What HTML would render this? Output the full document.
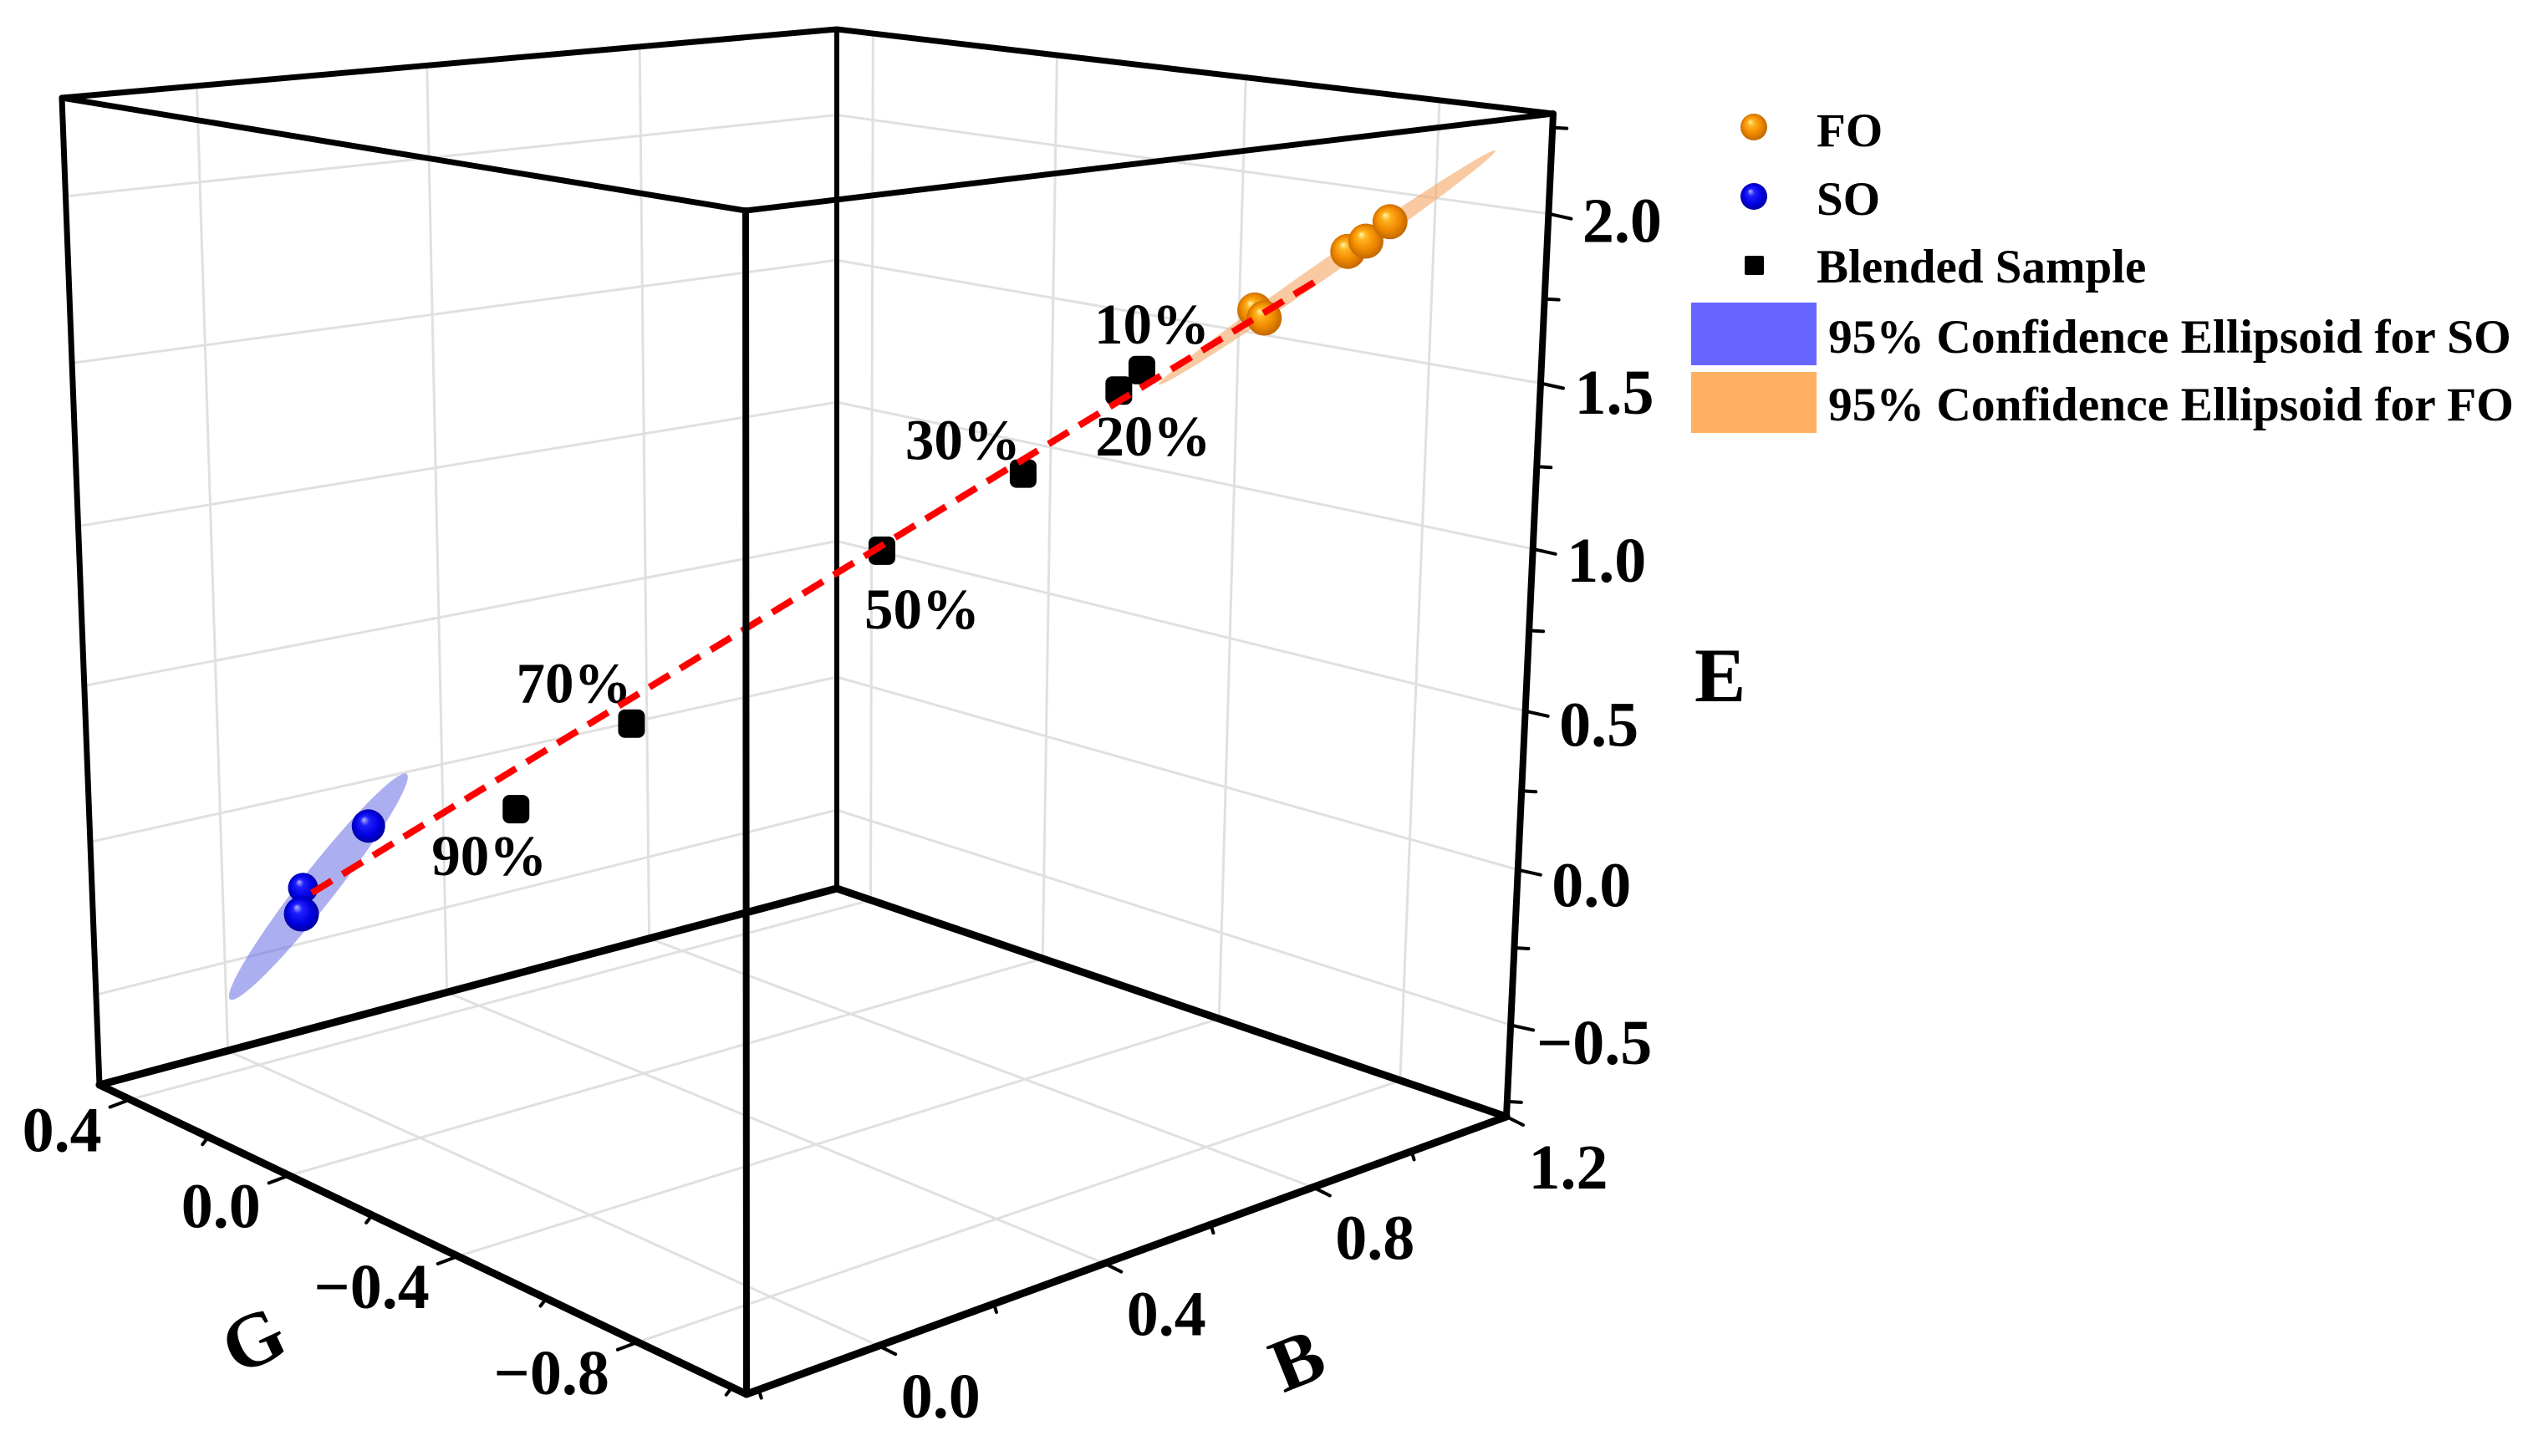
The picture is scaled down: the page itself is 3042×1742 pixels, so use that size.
<!DOCTYPE html>
<html lang="en">
<head>
<meta charset="utf-8">
<title>3D colour-difference chart</title>
<style>
html,body{margin:0;padding:0;background:#fff;}
svg{display:block;}
text{font-family:"Liberation Serif",serif;font-weight:bold;fill:#000;}
</style>
</head>
<body>
<svg id="chart" xmlns="http://www.w3.org/2000/svg" width="3042" height="1742" viewBox="0 0 3042 1742">
  <defs>
    <radialGradient id="ballOrange" cx="50%" cy="50%" r="55%" fx="36%" fy="30%">
      <stop offset="0" stop-color="#fffbb0"/>
      <stop offset="0.22" stop-color="#ffb420"/>
      <stop offset="0.6" stop-color="#f08a00"/>
      <stop offset="1" stop-color="#b86000"/>
    </radialGradient>
    <radialGradient id="ballBlue" cx="50%" cy="50%" r="55%" fx="36%" fy="30%">
      <stop offset="0" stop-color="#b4b8ff"/>
      <stop offset="0.25" stop-color="#2020ff"/>
      <stop offset="0.65" stop-color="#0000e0"/>
      <stop offset="1" stop-color="#000090"/>
    </radialGradient>
  </defs>
  <rect x="0" y="0" width="3042" height="1742" fill="#fff"/>
  <g id="grid"></g>
  <g id="backEdges"></g>
  <g id="marks"></g>
  <g id="frontEdges"></g>
  <g id="ticks"></g>
  <g id="labels"></g>

  <text transform="translate(303,1603) rotate(-25)" text-anchor="middle" dominant-baseline="central" font-size="92">G</text>
  <text transform="translate(1552,1628) rotate(-22)" text-anchor="middle" dominant-baseline="central" font-size="90">B</text>
  <text x="2027" y="839" font-size="92">E</text>

  <g>
    <circle cx="2098" cy="152" r="16" fill="url(#ballOrange)"/>
    <text x="2173" y="175" font-size="57">FO</text>
    <circle cx="2098" cy="235" r="16" fill="url(#ballBlue)"/>
    <text x="2173" y="257" font-size="57">SO</text>
    <rect x="2087" y="306" width="23" height="23" rx="2" fill="#000"/>
    <text x="2173" y="338" font-size="57">Blended Sample</text>
    <rect x="2023" y="362" width="150" height="75" fill="#6666ff"/>
    <text x="2187" y="422" font-size="57.5">95% Confidence Ellipsoid for SO</text>
    <rect x="2023" y="445" width="150" height="73" fill="#ffb061"/>
    <text x="2187" y="503" font-size="57.5">95% Confidence Ellipsoid for FO</text>
  </g>
</svg>

<script>
// ---- chart data ----
const bTickValues = [0, 0.4, 0.8, 1.2];
const bTickLabels = ["0.0", "0.4", "0.8", "1.2"];
const bMinorTicks = [-0.2, 0.2, 0.6, 1.0];
const gTickValues = [0.4, 0, -0.4, -0.8];
const gTickLabels = ["0.4", "0.0", "\u22120.4", "\u22120.8"];
const gMinorTicks = [0.2, -0.2, -0.6, -1.0];
const eTickValues = [2.0, 1.5, 1.0, 0.5, 0, -0.5];
const eTickLabels = ["2.0", "1.5", "1.0", "0.5", "0.0", "\u22120.5"];
const eMinorTicks = [2.25, 1.75, 1.25, 0.75, 0.25, -0.25, -0.75];

// FO samples
const foB = [1.052, 1.027, 1.009, 0.925, 0.915];
const foG = [-0.868, -0.847, -0.830, -0.753, -0.744];
const foE = [1.972, 1.916, 1.886, 1.690, 1.714];

// SO samples
const soB = [0.061, 0.000, -0.002];
const soG = [0.194, 0.273, 0.276];
const soE = [0.070, -0.142, -0.228];

// Blended samples
const blendNames = ["10%", "20%", "30%", "50%", "70%", "90%"];
const blendB = [0.803, 0.780, 0.686, 0.548, 0.307, 0.198];
const blendG = [-0.635, -0.613, -0.519, -0.375, -0.107, 0.024];
const blendE = [1.535, 1.474, 1.223, 0.984, 0.431, 0.146];

// Mixing line end points (SO end, FO end)
const mixB = [0.008, 0.975];
const mixG = [0.263, -0.800];
const mixE = [-0.157, 1.796];

// 95% ellipsoid long-axis end points
const soEllipsoidB = [0.097, -0.069];
const soEllipsoidG = [0.148, 0.365];
const soEllipsoidE = [0.243, -0.525];
const foEllipsoidB = [1.137, 0.820];
const foEllipsoidG = [-0.983, -0.652];
const foEllipsoidE = [2.186, 1.492];

// ---- axis functions ----
const B_RANGE = [-0.22, 1.2], G_RANGE = [0.48, -1.03], E_RANGE = [-0.8, 2.29];
const B_PERSP = 0.87, G_PERSP = 1.125, G_WALL_PERSP = 1.05, E_PERSP = 1.07;

function ramp(v, range, persp) {
  const t = (v - range[0]) / (range[1] - range[0]);
  return t / (t + (1 - t) * persp);
}
function bScale(v) { return ramp(v, B_RANGE, B_PERSP); }
function gScale(v) { return ramp(v, G_RANGE, G_PERSP); }
function gWallScale(v) { return ramp(v, G_RANGE, G_WALL_PERSP); }
function eScale(v) { return ramp(v, E_RANGE, E_PERSP); }

// Cube corners on the canvas
const CORNER = {
  L:  [119, 1298], F:  [893, 1668], K:  [1001, 1063], R:  [1802, 1336],
  Lt: [74, 117],   Ft: [892, 252],  Kt: [1001, 35],   Rt: [1858, 136]
};
function mix(a, b, t) { return [a[0] + (b[0] - a[0]) * t, a[1] + (b[1] - a[1]) * t]; }
function cube(u, v, w) {
  const bottom = mix(mix(CORNER.L, CORNER.K, u), mix(CORNER.F, CORNER.R, u), v);
  const top = mix(mix(CORNER.Lt, CORNER.Kt, u), mix(CORNER.Ft, CORNER.Rt, u), v);
  return mix(bottom, top, w);
}
function project(b, g, e) { return cube(bScale(b), gScale(g), eScale(e)); }

// ---- drawing helpers ----
const SVG_NS = "http://www.w3.org/2000/svg";
function mk(parent, tag, attrs) {
  const el = document.createElementNS(SVG_NS, tag);
  for (const k in attrs) el.setAttribute(k, attrs[k]);
  parent.appendChild(el);
  return el;
}
function lineAttrs(a, b, stroke, width) {
  return { x1: a[0], y1: a[1], x2: b[0], y2: b[1], stroke: stroke, "stroke-width": width, "stroke-linecap": "round" };
}

// ---- grid ----
const gridG = document.getElementById("grid");
const GRID_COLOR = "#e0e0e0", GRID_W = 3;
eTickValues.forEach(function (e, i) {
  const w = eScale(e);
  const a = mk(gridG, "line", lineAttrs(cube(0, 0, w), cube(1, 0, w), GRID_COLOR, GRID_W));
  
  
  const b = mk(gridG, "line", lineAttrs(cube(1, 0, w), cube(1, 1, w), GRID_COLOR, GRID_W));
  
  
});
bTickValues.forEach(function (val, i) {
  const u = bScale(val);
  const a = mk(gridG, "line", lineAttrs(cube(u, 0, 0), cube(u, 0, 1), GRID_COLOR, GRID_W));
  
  
  const b = mk(gridG, "line", lineAttrs(cube(u, 0, 0), cube(u, 1, 0), GRID_COLOR, GRID_W));
  
  
});
gTickValues.forEach(function (val, i) {
  const v = gScale(val);
  const vw = gWallScale(val);
  const a = mk(gridG, "line", lineAttrs(cube(1, vw, 0), cube(1, vw, 1), GRID_COLOR, GRID_W));
  
  
  const b = mk(gridG, "line", lineAttrs(cube(0, v, 0), cube(1, vw, 0), GRID_COLOR, GRID_W));
  
  
});

// ---- frame ----
const backG = document.getElementById("backEdges");
const frontG = document.getElementById("frontEdges");
const e1 = mk(backG, "line", lineAttrs(CORNER.L, CORNER.K, "#000", 9));


const e2 = mk(backG, "line", lineAttrs(CORNER.K, CORNER.R, "#000", 9));


const e3 = mk(backG, "line", lineAttrs(CORNER.K, CORNER.Kt, "#000", 6));


const e4 = mk(backG, "line", lineAttrs(CORNER.Lt, CORNER.Kt, "#000", 7));


const e5 = mk(backG, "line", lineAttrs(CORNER.Kt, CORNER.Rt, "#000", 7));


const e6 = mk(frontG, "line", lineAttrs(CORNER.L, CORNER.F, "#000", 9));


const e7 = mk(frontG, "line", lineAttrs(CORNER.F, CORNER.R, "#000", 9));


const e8 = mk(frontG, "line", lineAttrs(CORNER.L, CORNER.Lt, "#000", 7));


const e9 = mk(frontG, "line", lineAttrs(CORNER.F, CORNER.Ft, "#000", 8));


const e10 = mk(frontG, "line", lineAttrs(CORNER.R, CORNER.Rt, "#000", 8));


const e11 = mk(frontG, "line", lineAttrs(CORNER.Lt, CORNER.Ft, "#000", 7));


const e12 = mk(frontG, "line", lineAttrs(CORNER.Ft, CORNER.Rt, "#000", 7));



// ---- ticks and labels ----
const ticksG = document.getElementById("ticks");
const labelsG = document.getElementById("labels");
const TICK_FONT = 76;
function gAxisPoint(val) { return cube(0, gScale(val), 0); }
function bAxisPoint(val) { return cube(bScale(val), 1, 0); }
function eAxisPoint(val) { return cube(1, 1, eScale(val)); }
function tickEnd(p, dx, dy) { return [p[0] + dx, p[1] + dy]; }

gTickValues.forEach(function (val, i) {
  const p = gAxisPoint(val);
  const t = mk(ticksG, "line", lineAttrs(p, tickEnd(p, -24, 9), "#000", 4));
  
  
  const l = mk(labelsG, "text", { x: p[0] - 34, y: p[1] + 62, "text-anchor": "end", "font-size": TICK_FONT });
  l.textContent = gTickLabels[i];
  
  
});
gMinorTicks.forEach(function (val, i) {
  const p = gAxisPoint(val);
  const t = mk(ticksG, "line", lineAttrs(p, tickEnd(p, -7, 9), "#000", 4));
  
  
});
bTickValues.forEach(function (val, i) {
  const p = bAxisPoint(val);
  const t = mk(ticksG, "line", lineAttrs(p, tickEnd(p, 20, 10), "#000", 4));
  
  
  const l = mk(labelsG, "text", { x: p[0] + 74, y: p[1] + 86, "text-anchor": "middle", "font-size": TICK_FONT });
  l.textContent = bTickLabels[i];
  
  
});
bMinorTicks.forEach(function (val, i) {
  const p = bAxisPoint(val);
  const t = mk(ticksG, "line", lineAttrs(p, tickEnd(p, 3, 10), "#000", 4));
  
  
});
eTickValues.forEach(function (val, i) {
  const p = eAxisPoint(val);
  const t = mk(ticksG, "line", lineAttrs(p, tickEnd(p, 27, 6), "#000", 4));
  
  
  const l = mk(labelsG, "text", { x: p[0] + 88 + (val < 0 ? 12 : 0), y: p[1] + 34 + (p[1] - 255) * 0.0128, "text-anchor": "middle", "font-size": TICK_FONT });
  l.textContent = eTickLabels[i];
  
  
});
eMinorTicks.forEach(function (val, i) {
  const p = eAxisPoint(val);
  const t = mk(ticksG, "line", lineAttrs(p, tickEnd(p, 17, 1), "#000", 4));
  
  
});

// ---- data marks ----
const marksG = document.getElementById("marks");

function ellipsoidAttrs(bs, gs, es, minor, fill, opacity) {
  const a = project(bs[0], gs[0], es[0]);
  const b = project(bs[1], gs[1], es[1]);
  const cx = (a[0] + b[0]) / 2, cy = (a[1] + b[1]) / 2;
  const major = Math.hypot(a[0] - b[0], a[1] - b[1]) / 2;
  const angle = Math.atan2(a[1] - b[1], a[0] - b[0]) * 180 / Math.PI;
  return { cx: cx, cy: cy, rx: major, ry: minor, fill: fill, "fill-opacity": opacity,
           transform: "rotate(" + angle + " " + cx + " " + cy + ")" };
}
const soEll = mk(marksG, "ellipse", ellipsoidAttrs(soEllipsoidB, soEllipsoidG, soEllipsoidE, 21, "#5a60e0", 0.5));


const foEll = mk(marksG, "ellipse", ellipsoidAttrs(foEllipsoidB, foEllipsoidG, foEllipsoidE, 10, "#f5a868", 0.62));



soB.forEach(function (_, i) {
  const p = project(soB[i], soG[i], soE[i]);
  const c = mk(marksG, "circle", { cx: p[0], cy: p[1], r: i === 0 ? 20 : (i === 1 ? 18 : 21), fill: "url(#ballBlue)" });
  
  
});
foB.forEach(function (_, i) {
  const j = foB.length - 1 - i;
  const p = project(foB[j], foG[j], foE[j]);
  const c = mk(marksG, "circle", { cx: p[0], cy: p[1], r: 21, fill: "url(#ballOrange)" });
  
  
});

const SQUARE_W = 32, SQUARE_H = 34;
const LABEL_OFFSET_X = [-57, -28, -141, -21, -138, -101];
const LABEL_OFFSET_Y = [-32, 78, -17, 93, -25, 79];
blendB.forEach(function (_, i) {
  const p = project(blendB[i], blendG[i], blendE[i]);
  const r = mk(marksG, "rect", { x: p[0] - SQUARE_W / 2, y: p[1] - SQUARE_H / 2, width: SQUARE_W, height: SQUARE_H, rx: 8, fill: "#000" });
  
  
  const t = mk(marksG, "text", { x: p[0] + LABEL_OFFSET_X[i], y: p[1] + LABEL_OFFSET_Y[i], "font-size": 69 });
  t.textContent = blendNames[i];
  
  
});

const mixA = project(mixB[0], mixG[0], mixE[0]);
const mixZ = project(mixB[1], mixG[1], mixE[1]);
const mixLine = mk(marksG, "line", { x1: mixA[0], y1: mixA[1], x2: mixZ[0], y2: mixZ[1], stroke: "#ff0000", "stroke-width": 8, "stroke-dasharray": "28 15" });


</script>
</body>
</html>
